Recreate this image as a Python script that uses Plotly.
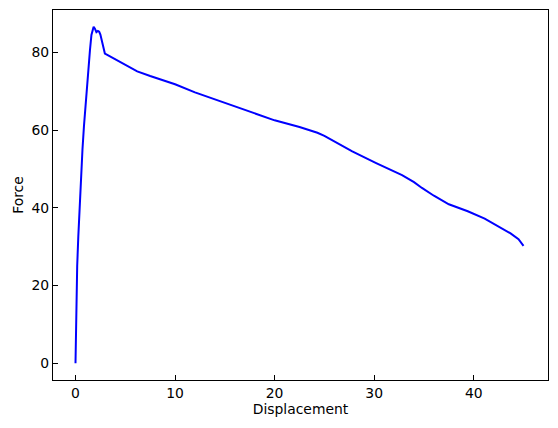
import plotly.graph_objects as go

# Force vs displacement curve
displacement = [0.0, 0.05, 0.1, 0.17, 0.28, 0.4, 0.55, 0.7, 0.85, 1.0, 1.15, 1.3, 1.45,
                1.6, 1.72, 1.82, 1.95, 2.1, 2.25, 2.38, 2.5, 2.65, 2.8, 2.95, 3.1,
                3.6, 4.1, 5.0, 6.2, 7.5, 10.0, 12.0, 14.0, 16.0, 18.0, 20.0, 22.5,
                24.3, 25.0, 25.8, 27.8, 30.2, 32.8, 34.0, 34.8, 36.0, 37.5, 39.4,
                41.1, 43.7, 44.5, 45.0]
force = [0.0, 12.0, 19.0, 25.0, 32.5, 39.5, 47.5, 55.0, 61.0, 66.5, 71.0, 76.0, 80.5,
         84.5, 86.2, 86.6, 86.1, 85.2, 85.5, 85.3, 84.6, 83.0, 81.2, 79.7, 79.5,
         78.8, 78.1, 76.7, 75.1, 73.9, 71.8, 69.7, 67.9, 66.0, 64.3, 62.5, 60.8,
         59.3, 58.5, 57.3, 54.5, 51.5, 48.4, 46.6, 45.1, 43.1, 40.9, 39.1,
         37.2, 33.4, 31.9, 30.2]

x_ticks = [0, 10, 20, 30, 40]
y_ticks = [0, 20, 40, 60, 80]

font = dict(family="DejaVu Sans", size=13.9, color="black")

fig = go.Figure()
fig.add_trace(go.Scatter(
    x=displacement, y=force, mode="lines",
    line=dict(color="#0000ff", width=2),
    showlegend=False
))

axis_style = dict(
    showline=True, linecolor="black", linewidth=1.1, mirror=True,
    ticks="inside", ticklen=4.5, tickcolor="black", tickwidth=1.1,
    showgrid=False, zeroline=False, automargin=False,
    tickfont=font,
)

fig.update_xaxes(range=[-2.26, 47.46], tickvals=x_ticks,
                 title=dict(text="Displacement", standoff=3, font=font),
                 **axis_style)
fig.update_yaxes(range=[-4.33, 90.9], tickvals=y_ticks,
                 title=dict(text="Force", standoff=4, font=font),
                 **axis_style)

# page body adds an 8px offset, so the figure is sized to fit inside the window
fig.update_layout(
    width=550, height=420,
    margin=dict(l=45, r=10, t=2, b=48),
    plot_bgcolor="white", paper_bgcolor="white",
)
fig.write_html("out.html")
